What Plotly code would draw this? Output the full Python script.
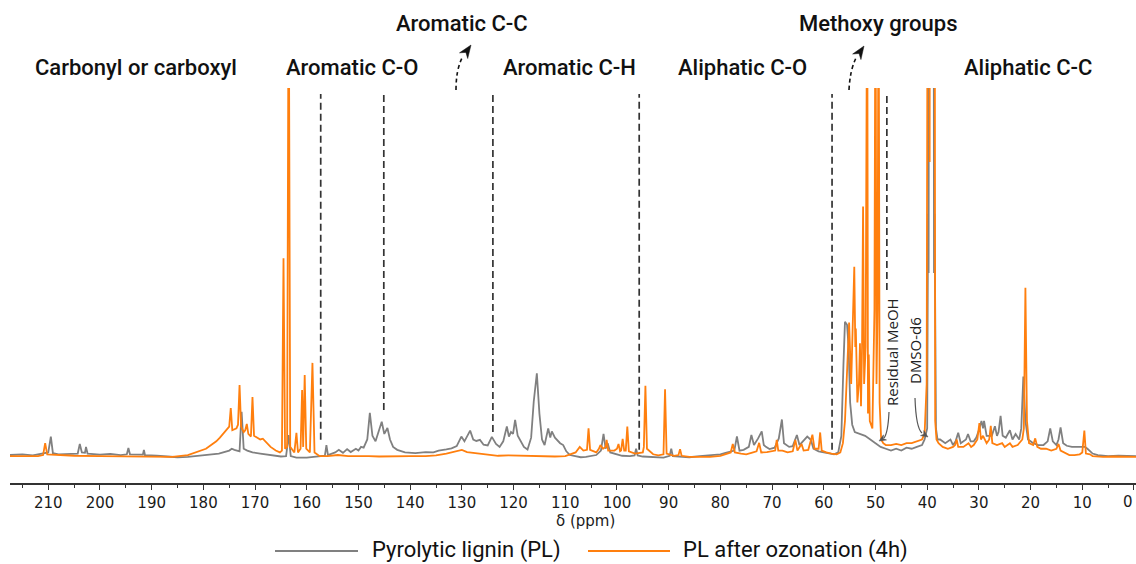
import plotly.graph_objects as go

# ---------------- data ----------------
# Pyrolytic lignin (PL) - grey trace: chemical shift (ppm) and relative intensity
pl_ppm = [217.5, 215, 213, 211, 210.0, 209.5, 209.1, 208, 206, 204.3, 203.9, 203.5, 202.9, 202.7, 202.4,
          200, 198, 196, 194.8, 194.5, 194.2, 192, 191.7, 191.5, 191.3, 189, 187, 185, 183, 181, 179, 177,
          175, 174.5, 174, 173.0, 172.6, 172.2, 171.5, 170.5, 169, 167, 165, 164.0, 163.5, 163.1, 162, 160,
          158.5, 157.5, 156.5, 156.2, 155.9, 154.5, 153.8, 153, 152.2, 151.5, 150.5, 150, 149.5, 149, 148.3,
          147.8, 147.3, 146.7, 146.0, 145.5, 145.0, 144.4, 143.9, 143.3, 142.5, 141, 139, 137, 135.5, 134.5,
          133, 132, 131, 130.1, 129.5, 128.9, 128.4, 127.8, 127.2, 126.5, 125.8, 125, 124.2, 123.4, 122.7,
          122, 121.3, 120.9, 120.5, 120.1, 119.7, 119.2, 118.8, 118.0, 117.3, 116.6, 116.1, 115.5, 115.0,
          114.5, 114.0, 113.3, 112.9, 112.6, 112.0, 111.7, 111.0, 110.4, 109.8, 109.1, 108, 107, 106, 105,
          104, 103.1, 102.6, 102.2, 101.8, 101.3, 100, 99, 97.5, 96.6, 96.3, 96.0, 95, 93, 91, 89.8, 89.5,
          89.2, 88, 86, 84, 82, 80, 79, 77.3, 76.8, 76.3, 75.5, 74.5, 74.0, 73.5, 72.7, 72.0, 71.6, 71.2,
          70.5, 69.5, 68.7, 68.1, 67.7, 66.7, 66, 65.2, 64.7, 64.0, 63.2, 62.5, 62.0, 61, 60, 59, 58, 57.2,
          56.6, 56.2, 55.9, 55.5, 55.2, 54.9, 54.5, 54, 53, 52, 51, 50, 49, 48, 47, 46, 45, 44, 43, 42, 41,
          40.5, 40.0, 39.83, 39.72, 39.62, 39.52, 39.41, 39.3, 39.2, 39.1, 38.99, 38.88, 38.78, 38.68, 38.57,
          38.3, 38, 37.5, 36.5, 35.5, 35, 34.5, 34.0, 33.5, 33, 32.5, 32.1, 31.6, 31, 30.5, 30.0, 29.5, 29.2,
          29.0, 28.5, 27.5, 26.9, 26.5, 26.2, 25.8, 25.4, 24.8, 24.0, 23.5, 22.9, 22.2, 21.8, 21.4, 21.0,
          20.5, 20, 19.5, 18.5, 17.5, 16.7, 16.2, 15.7, 15, 14.6, 14.2, 13.7, 13, 12, 11, 10, 9.5, 9, 8, 7,
          5, 3, 1, -0.5]
pl_int = [0.8, 1.0, 0.7, 1.2, 1.5, 5.8, 1.3, 1.0, 1.2, 1.2, 3.8, 1.5, 1.4, 3.0, 1.2,
          0.9, 1.1, 0.8, 1.0, 2.7, 1.0, 0.8, 0.9, 2.2, 0.8, 0.6, 0.4, 0.2, 0.3, 0.6, 0.8, 1.2,
          2.0, 2.5, 2.2, 1.8, 12.5, 2.5, 2.0, 1.5, 1.2, 0.8, 0.4, 0.5, 6.2, 0.5, 0.1, 0.1,
          0.3, 0.5, 0.6, 3.5, 0.8, 1.5, 2.2, 1.4, 2.4, 1.6, 2.5, 2.0, 3.0, 2.8, 5.0,
          12.2, 6.0, 4.5, 7.5, 9.8, 6.5, 8.1, 5.0, 3.0, 2.2, 1.5, 1.3, 1.6, 1.5, 2.0,
          2.3, 2.6, 3.2, 5.8, 4.5, 6.0, 7.4, 5.0, 4.6, 4.9, 3.6, 3.4, 5.7, 3.8, 3.0,
          4.5, 8.5, 5.8, 7.0, 6.5, 10.3, 6.0, 5.0, 3.0, 2.3, 5.5, 15.2, 22.9, 12.0,
          5.0, 3.5, 8.0, 5.5, 7.2, 5.5, 5.0, 4.0, 3.5, 1.8, 0.8, 0.5, 0.2, 0.3, 0.5,
          0.8, 2.0, 6.5, 2.5, 4.0, 1.5, 1.0, 0.6, 0.5, 0.7, 2.5, 0.7, 0.4, 0.2, 0.1, 0.6, 2.5,
          0.5, 0.4, 0.2, 0.5, 0.8, 1.0, 1.4, 2.0, 5.8, 2.0, 2.2, 3.0, 6.2, 3.5, 5.3, 7.2, 3.5, 3.0,
          2.4, 2.8, 5.3, 10.4, 4.0, 3.0, 3.2, 6.2, 3.5, 4.6, 5.8, 4.9, 2.5, 1.8, 1.5, 1.2, 1.0, 1.5,
          6.0, 25.0, 36.8, 36.0, 30.0, 15.0, 9.0, 7.0, 6.5, 6.0, 5.0, 4.0, 3.0, 2.5, 2.0, 2.5, 2.0, 2.8, 2.5, 3.0, 3.5,
          5.0, 8.0, 66, 50, 198, 150, 396, 300, 462, 300, 396, 150, 198, 50, 66,
          8.0, 5.0, 5.0, 4.0, 5.0, 3.5, 4.5, 6.8, 4.0, 4.5, 5.0, 6.5, 4.5, 4.5, 5.5, 7.5, 10.0, 8.0,
          10.0, 6.0, 6.0, 8.6, 6.0, 7.0, 11.4, 6.0, 5.5, 7.5, 5.0, 6.5, 5.0, 8.0, 22.0, 10.0,
          5.0, 4.5, 4.0, 3.5, 3.5, 4.5, 8.0, 4.5, 3.5, 5.0, 8.3, 4.0, 3.3, 3.0, 3.0, 2.8, 3.0, 2.5, 1.2, 0.8,
          0.5, 0.6, 0.5, 0.5]

# PL after ozonation (4h) - orange trace
oz_ppm = [217.5, 214, 212, 211.0, 210.6, 210.2, 208, 205, 200, 195, 190, 186, 183, 181, 179.5, 178.5,
          177.5, 176.8, 176.2, 175.5, 175.0, 174.7, 174.4, 173.6, 173.3, 173.0, 172.7, 172.2, 171.9, 171.6,
          171.3, 170.8, 170.5, 170.2, 169.5, 169, 168.5, 168, 167, 166, 165.2, 164.8, 164.5, 164.2, 163.8,
          163.5, 163.2, 162.4, 162.0, 161.7, 161.2, 160.9, 160.7, 160.4, 160.1, 159.4, 158.9, 158.5, 157.5,
          156, 154, 152, 150, 148, 146, 144, 142, 140, 137, 135, 133, 131, 130, 129, 127, 125, 123, 121, 119,
          117, 115, 112, 110, 108, 107.2, 106.5, 105.8, 105.5, 105.2, 104, 103.5, 103.2, 102.7, 102.2, 102.0,
          101.7, 100.5, 100.0, 99.7, 99.4, 99.2, 98.9, 98.6, 98.3, 98.0, 97.7, 96.5, 95.0, 94.8, 94.5, 94.2,
          93, 92, 91.0, 90.7, 90.4, 89, 88.1, 87.8, 87.5, 86, 84, 82, 80, 79, 78, 77.6, 77.2, 76, 75, 74, 73,
          72.5, 72.1, 71, 70, 69.4, 69.1, 68.8, 68, 67, 66, 65.5, 65.1, 64.3, 63.9, 63, 62.2, 61.8, 61, 60.7,
          60.4, 59.5, 58.5, 57.5, 56.8, 56.3, 55.9, 55.5, 55.1, 54.7, 54.5, 54.3, 54.1, 53.9, 53.8, 53.5,
          53.2, 53.0, 52.8, 52.6, 52.4, 52.2, 51.9, 51.6, 51.45, 51.3, 51.1, 50.6, 50.2, 50.0, 49.8, 49.6,
          49.4, 49.2, 48.9, 48.5, 48, 47, 46, 45, 44, 43, 42, 41, 40.5, 40.1, 39.83, 39.72, 39.62, 39.52,
          39.41, 39.3, 39.2, 39.1, 38.99, 38.88, 38.78, 38.68, 38.57, 38.45, 38.2, 37.8, 37, 36, 35, 34.6,
          34.3, 34.0, 33, 32, 31.5, 31, 30.3, 29.9, 29.6, 29.2, 28.5, 28.0, 27.7, 27.4, 26.5, 25.5, 25, 24,
          23.5, 22.5, 21.6, 21.3, 21.0, 20.7, 20.3, 19.5, 19.1, 18.7, 18, 17, 16, 15, 14.6, 14.2, 13.5,
          12.5, 11.5, 10.5, 10.0, 9.6, 9.3, 8.5, 8, 6, 4, 2, -0.5]
oz_int = [0.5, 0.6, 0.5, 0.8, 4.0, 1.0, 0.8, 0.6, 0.5, 0.4, 0.5, 0.3, 0.8, 1.8, 2.5, 3.5,
          4.5, 5.5, 6.5, 7.5, 8.5, 13.5, 7.5, 8.0, 9.0, 19.7, 8.5, 7.0, 7.5, 9.2,
          6.5, 5.8, 16.5, 6.0, 5.5, 5.0, 5.2, 4.5, 3.0, 2.0, 1.5, 2.0, 54.0, 2.5, 3.0,
          140, 3.0, 1.5, 6.8, 1.5, 2.5, 18.4, 3.0, 22.4, 2.5, 1.5, 25.7, 1.5, 0.5,
          0.5, 0.8, 0.5, 0.6, 0.5, 0.4, 0.5, 0.6, 0.5, 0.5, 0.7, 1.2, 1.8, 2.2, 1.6, 1.2, 0.8, 0.6, 0.7, 0.6,
          0.5, 0.6, 0.4, 0.5, 1.5, 3.0, 2.0, 2.2, 8.0, 2.2, 1.5, 2.5, 3.5, 2.5, 3.0, 4.9,
          2.0, 2.0, 2.5, 3.8, 1.8, 2.0, 5.2, 2.0, 2.0, 8.5, 1.8, 1.2, 1.5, 3.0, 19.5, 2.5,
          1.0, 0.7, 1.0, 18.6, 1.2, 0.6, 0.8, 2.4, 0.6, 0.3, 0.2, 0.3, 0.6, 1.0, 1.5, 3.8, 1.5, 1.2, 1.0, 1.4, 1.8,
          4.1, 1.5, 1.6, 1.8, 2.0, 4.9, 2.0, 2.0, 1.5, 1.8, 4.9, 2.0, 3.8, 2.0, 2.2, 6.3, 2.5, 2.5, 6.9,
          2.0, 1.5, 1.2, 1.0, 1.5, 4.0, 10.0, 25.0, 36.6, 20.0, 30.0, 36.0, 51.7, 30.0, 35.0, 15.0,
          20.0, 31.0, 14.0, 30.0, 68.0, 20.0, 30.0, 140, 12.0, 28.0, 10.0, 8.0, 40.0, 140, 20.0, 40.0,
          140, 15.0, 5.0, 4.0, 3.5, 3.5, 3.8, 3.5, 4.0, 4.0, 4.5, 5.0, 6.5, 20.0, 200, 120, 500, 80,
          600, 400, 700, 300, 600, 200, 400, 100, 200, 10.0, 5.0, 4.0, 3.0, 2.5, 3.0, 3.5,
          5.0, 3.0, 3.0, 4.0, 3.0, 3.5, 5.0, 9.4, 5.0, 6.0, 4.0, 5.0, 8.7, 4.0, 3.5, 4.0, 3.0, 4.0,
          3.0, 3.5, 5.0, 8.0, 46.0, 10.0, 4.0, 3.5, 5.3, 3.0, 2.5, 2.5, 2.0, 2.5, 3.8, 2.0, 1.5,
          0.8, 0.8, 1.0, 1.5, 7.4, 1.2, 1.0, 0.5, 0.3, 0.4, 0.3, 0.3]

# region boundaries (ppm) of the dashed separators and their extent (intensity units)
sep_ppm = [157.3, 145.1, 124.0, 95.7, 58.4, 47.8]
sep_bottom = [4.9, 13.0, 7.0, 2.2, 2.2, 45.4]
sep_top = 98.4

# region labels: text, centre (ppm), row (0 = lower row, 1 = upper row)
region_text = ["Carbonyl or carboxyl", "Aromatic C-O", "Aromatic C-C", "Aromatic C-H",
               "Aliphatic C-O", "Methoxy groups", "Aliphatic C-C"]
region_ppm = [193.0, 151.3, 130.0, 109.1, 75.8, 49.5, 20.5]
region_row = [0, 0, 1, 0, 0, 1, 0]

series_names = ["Pyrolytic lignin (PL)", "PL after ozonation (4h)"]
series_colors = ["#808080", "#ff7f0e"]

x_ticks = list(range(210, -1, -10))
# the last tick label ("0") sits at the page edge; it is drawn right-aligned separately
x_ticktext = [str(v) if v != 0 else "" for v in x_ticks]

# ---------------- geometry helpers (page pixels -> paper) ----------------
W, H = 1136, 564
ML, MR, MT, MB = 10, 0, 88, 81
PW, PH = W - ML - MR, H - MT - MB


def pp(px, py):
    return (px - ML) / PW, (H - MB - py) / PH


def curve_path(p0, c, p1):
    a, b, d = pp(*p0), pp(*c), pp(*p1)
    return f"M {a[0]},{a[1]} Q {b[0]},{b[1]} {d[0]},{d[1]}"


def head_path(tip, frm, length=13, half=5, notch=9):
    tx, ty = tip
    dx, dy = tx - frm[0], ty - frm[1]
    n = (dx * dx + dy * dy) ** 0.5
    dx, dy = dx / n, dy / n
    nx, ny = -dy, dx
    L = (tx - length * dx + half * nx, ty - length * dy + half * ny)
    R = (tx - length * dx - half * nx, ty - length * dy - half * ny)
    N = (tx - notch * dx, ty - notch * dy)
    pts = [pp(*tip), pp(*L), pp(*N), pp(*R)]
    return "M " + " L ".join(f"{x},{y}" for x, y in pts) + " Z"


fig = go.Figure()
fig.add_trace(go.Scatter(x=pl_ppm, y=pl_int, mode="lines", name=series_names[0],
                         line=dict(color=series_colors[0], width=1.8), showlegend=False))
fig.add_trace(go.Scatter(x=oz_ppm, y=oz_int, mode="lines", name=series_names[1],
                         line=dict(color=series_colors[1], width=1.8), showlegend=False))

shapes = []
for xp, yb in zip(sep_ppm, sep_bottom):
    shapes.append(dict(type="line", xref="x", yref="y", x0=xp, x1=xp, y0=yb, y1=sep_top,
                       line=dict(color="#333333", width=1.7, dash="7px,4px")))

# curved dashed arrows toward the upper-row labels
for p0, c, p1, tip in [((456, 90), (456, 70), (462, 58), (471, 45)),
                       ((849, 90), (850, 70), (856, 58), (864, 46))]:
    shapes.append(dict(type="path", xref="paper", yref="paper", path=curve_path(p0, c, p1),
                       line=dict(color="#111111", width=1.6, dash="4px,3px")))
    shapes.append(dict(type="path", xref="paper", yref="paper", path=head_path(tip, p1),
                       fillcolor="#111111", line=dict(color="#111111", width=0.5)))

# small grey arrows for the solvent labels
for p0, c, p1, tip in [((889, 412), (888, 433), (884, 438), (879, 441)),
                       ((915, 398), (916, 428), (922, 433), (928, 437))]:
    shapes.append(dict(type="path", xref="paper", yref="paper", path=curve_path(p0, c, p1),
                       line=dict(color="#555555", width=1.2)))
    shapes.append(dict(type="path", xref="paper", yref="paper", path=head_path(tip, p1, 7, 3, 5),
                       fillcolor="#555555", line=dict(color="#555555", width=0.5)))

# custom legend lines
for (x0, x1), col in zip([(275, 358), (588, 670)], series_colors):
    a, b = pp(x0, 551), pp(x1, 551)
    shapes.append(dict(type="line", xref="paper", yref="paper", x0=a[0], x1=b[0], y0=a[1], y1=b[1],
                       line=dict(color=col, width=2)))

annotations = []
row_y = {0: pp(0, 68)[1], 1: pp(0, 23)[1]}
for t, xp, r in zip(region_text, region_ppm, region_row):
    annotations.append(dict(text=t, x=xp, xref="x", y=row_y[r], yref="paper", showarrow=False,
                            xanchor="center", yanchor="middle",
                            font=dict(family="Roboto", size=22, color="#111111", weight=500)))

for t, px, py in [("Residual MeOH", 892, 352), ("DMSO-d6", 915, 351)]:
    a = pp(px, py)
    annotations.append(dict(text=t, x=a[0], y=a[1], xref="paper", yref="paper", showarrow=False,
                            textangle=-90, xanchor="center", yanchor="middle",
                            font=dict(family="Open Sans", size=15, color="#222222")))

for t, px in zip(series_names, [370, 681]):
    a = pp(px, 550)
    annotations.append(dict(text=t, x=a[0], y=a[1], xref="paper", yref="paper", showarrow=False,
                            xanchor="left", yanchor="middle",
                            font=dict(family="Roboto", size=22, color="#111111")))

a = pp(585, 521)
annotations.append(dict(text="δ (ppm)", x=a[0], y=a[1], xref="paper", yref="paper", showarrow=False,
                        xanchor="center", yanchor="middle",
                        font=dict(family="DejaVu Sans", size=15, color="#1a1a1a")))

# "0" tick label, kept inside the page
a = pp(1136, 502)
annotations.append(dict(text=str(x_ticks[-1]), x=1.0, y=a[1], xref="paper", yref="paper",
                        showarrow=False, xanchor="right", yanchor="middle", xshift=-1,
                        font=dict(family="DejaVu Sans", size=15, color="#1a1a1a")))

fig.update_layout(
    width=W, height=H,
    margin=dict(l=ML, r=MR, t=MT, b=MB, autoexpand=False),
    paper_bgcolor="white", plot_bgcolor="white",
    shapes=shapes, annotations=annotations,
    showlegend=False,
    xaxis=dict(range=[217.4, -0.39], tickvals=x_ticks, ticktext=x_ticktext,
               automargin=False,
               showgrid=False, zeroline=False, showline=True, linecolor="#333333", linewidth=1.5,
               ticks="outside", ticklen=5, tickwidth=1.2, tickcolor="#333333",
               minor=dict(dtick=5, ticks="outside", ticklen=3, tickwidth=1, tickcolor="#333333"),
               tickfont=dict(family="DejaVu Sans", size=15, color="#1a1a1a")),
    yaxis=dict(range=[-6.76, 100], visible=False, showgrid=False, zeroline=False, automargin=False),
)

fig.write_html("out.html", config={"displayModeBar": False},
               post_script="document.body.style.margin='0';document.body.style.overflow='hidden';")
